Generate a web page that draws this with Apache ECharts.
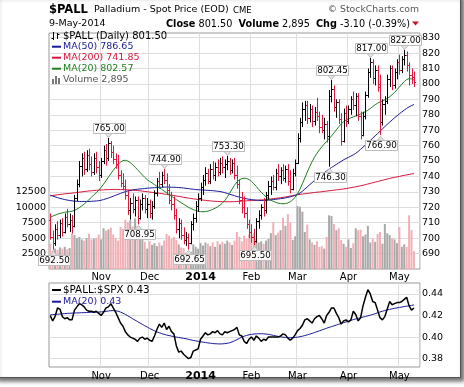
<!DOCTYPE html>
<html><head><meta charset="utf-8">
<script src="https://cdn.jsdelivr.net/npm/echarts@6/dist/echarts.min.js"></script>
<style>html,body{margin:0;padding:0;background:#fff}#c{width:464px;height:387px}</style>
</head><body><div id="c"></div><script>
// ---------- data ----------
const startDate = '2013-10-03', endDate = '2014-05-09';
const holidays = ['2013-11-28','2013-12-25','2014-01-01','2014-01-20','2014-02-17','2014-04-18'];
const padSlots = ['pad1','pad2'];
const monthLabels = {'2013-11':'Nov','2013-12':'Dec','2014-01':'2014','2014-02':'Feb','2014-03':'Mar','2014-04':'Apr','2014-05':'May'};
const priceTicks = [690,700,710,720,730,740,750,760,770,780,790,800,810,820,830];
const volumeTicks = [2500,5000,7500,10000,12500];
const ratioTicks = [0.38,0.40,0.42,0.44];

const opens = [712,701,697,706,702,710,704,714,709,712,
708,726,735,747,752,745,754,748,743,752,
746,741,750,757,752,762,756,751,748,741,
736,734,728,718,723,719,725,713,722,726,
719,722,716,721,729,737,735,741,738,731,
725,722,715,706,710,702,699,701,697,709,
713,721,726,733,738,742,737,745,741,746,
743,749,746,748,750,744,749,741,735,725,
720,716,709,704,701,698,711,715,720,718,
728,734,737,733,742,740,744,739,745,737,
732,742,749,765,775,784,786,778,784,776,
782,779,772,770,774,766,792,797,785,788,
777,763,781,776,784,790,786,792,779,767,
779,793,808,814,804,809,800,775,787,789,
803,810,799,808,814,809,816,819,812,806,
804.6];
const highs = [716,705,709,711,712,713,716,719,716,715,
728,738,750,755,756,757,758,753,755,756,
750,752,760,761,765,763,760,755,754,744,
742,738,731,726,729,727,727,725,729,728,
726,725,724,731,739,743,743,744.9,742,735,
730,727,719,713,712,707,704,703,711,716,
724,729,736,741,746,745,748,750,749,751,
752,753,751,753.3,752,751,752,747,738,730,
727,720,712,709,706,713,718,722,726,730,
737,740,741,745,748,746,748,747,748,744,
745,751,768,778,788,789,789,787,786,785,
791,782,780,778,776,796,802.45,799,790,790,
781,784,786,786,792,795,794,794,782,782,
795,810,817,816,812,812,806,790,792,806,
812,812,810,816,819,818,822,821,814,810,
808];
const lows = [699,692.5,695,699,700,701,703,707,704,703,
707,724,733,740,741,743,744,740,741,742,
737,739,748,747,750,752,748,745,738,733,
731,725,715,712,716,714,708.95,712,718,716,
713,713,712,719,727,732,733,735,728,722,
718,712,703,700,699,696,695,692.65,696,705,
710,717,724,728,734,735,735,738,737,740,
741,742,739,744,741,742,738,732,722,716,
713,706,700,697,695.5,697,706,712,714,716,
725,728,731,731,737,735,737,736,734,729,
731,740,748,762,772,776,774,775,772,773,
776,768,768,764,762,746.3,788,782,778,774,
760,762,772,774,780,783,779,776,764,766,
777,791,804,800,799,795,766.9,773,780,787,
798,796,797,803,806,807,812,808,799,800,
798];
const closes = [701,697,706,702,710,704,714,709,712,708,
726,735,747,752,745,754,748,743,752,746,
741,750,757,752,762,756,751,748,741,736,
734,728,718,723,719,725,713,722,726,719,
722,716,721,729,737,735,741,738,731,725,
722,715,706,710,702,699,701,697,709,713,
721,726,733,738,742,737,745,741,746,743,
749,746,748,750,744,749,741,735,725,720,
716,709,704,701,698,711,715,720,718,728,
734,737,733,742,740,744,739,745,737,732,
742,749,765,775,784,786,778,784,776,782,
779,772,770,774,766,792,797,785,788,777,
763,781,776,784,790,786,792,779,767,779,
793,808,814,804,809,798,775,787,789,803,
810,799,808,814,809,816,819,812,806,804.6,
801.5];
const volumes = [4100,3000,3300,3100,3500,3300,3600,3200,3400,5800,
5500,5000,5200,4800,4600,5000,5700,4800,4900,5000,
5600,4800,6600,6200,6400,6700,5600,5000,4600,6800,
6500,8000,7600,7900,6900,8200,7000,5200,4800,4400,
3300,4500,3900,4200,3700,4300,3800,4600,5700,5400,
4900,5200,4700,4000,3500,3400,2600,1600,2800,4000,
3600,3300,4200,3800,4300,4100,3700,4300,3600,4500,
4000,4400,4100,4600,4300,3900,4600,6000,5200,4500,
5400,4900,5600,5500,5800,4800,4300,4500,4100,4600,
4900,5800,7600,5500,5900,6300,8300,7000,8900,7500,
4700,5300,10200,10100,9300,6000,7200,4800,4300,3900,
4500,3600,3700,3300,5200,8700,8600,7300,6300,6600,
4700,4100,3600,4800,3400,4200,6600,6300,6400,5300,
5600,7000,4300,4900,4400,5700,6000,4100,7300,5800,
5500,5000,4800,4200,6800,3600,4000,3600,8700,6300,
2895];
const ma50 = [727.8,727.3,726.8,726.3,725.8,725.4,725.0,724.7,724.4,724.2,724.0,
723.9,723.8,723.8,723.8,723.8,723.8,723.9,724.0,724.1,724.3,
724.6,725.0,725.5,726.0,726.6,727.2,727.8,728.4,729.0,729.6,
730.1,730.6,731.0,731.3,731.5,731.7,731.9,732.0,732.2,732.4,
732.5,732.6,732.7,732.8,732.9,733.0,733.1,733.1,733.1,733.0,
733.0,732.9,732.8,732.7,732.5,732.3,732.1,731.9,731.7,731.5,
731.4,731.3,731.2,731.1,731.0,730.9,730.8,730.6,730.4,730.2,
729.9,729.5,729.0,728.5,728.0,727.5,727.0,726.6,726.2,725.8,
725.5,725.2,725.0,724.8,724.6,724.5,724.4,724.4,724.5,724.6,
724.8,725.0,725.2,725.4,725.6,725.8,726.1,726.4,726.8,727.2,
727.7,728.3,729.2,730.4,731.8,733.2,734.6,736.0,737.4,738.8,
740.0,741.2,742.4,743.6,744.8,745.8,746.8,747.8,748.8,749.8,
750.8,751.6,752.4,753.2,754.0,755.0,756.2,757.6,759.0,760.4,
761.8,763.3,764.8,766.3,767.8,769.3,770.8,772.3,773.8,775.2,
776.6,778.0,779.3,780.6,781.8,783.0,784.1,785.1,785.9,786.65];
const ma200 = [727.5,727.7,727.9,728.1,728.3,728.5,728.7,728.9,729.0,729.2,729.4,
729.6,729.8,730.0,730.2,730.4,730.6,730.7,730.9,731.0,731.1,
731.2,731.3,731.4,731.5,731.5,731.6,731.6,731.6,731.5,731.5,
731.4,731.3,731.2,731.1,731.0,730.9,730.7,730.5,730.3,730.1,
729.9,729.7,729.5,729.3,729.1,728.9,728.6,728.4,728.1,727.9,
727.6,727.3,727.1,726.8,726.5,726.2,726.0,725.7,725.5,725.3,
725.1,724.9,724.7,724.5,724.3,724.2,724.0,723.9,723.8,723.7,
723.7,723.6,723.6,723.6,723.6,723.7,723.8,723.9,724.0,724.1,
724.2,724.3,724.4,724.5,724.6,724.7,724.8,724.9,725.0,725.2,
725.4,725.6,725.8,726.0,726.2,726.4,726.7,727.0,727.3,727.6,
727.9,728.2,728.4,728.6,728.8,729.0,729.2,729.4,729.6,729.8,
729.9,730.1,730.3,730.5,730.7,730.9,731.1,731.3,731.5,731.7,
731.9,732.1,732.4,732.7,733.0,733.3,733.6,733.9,734.3,734.7,
735.1,735.5,735.9,736.3,736.7,737.1,737.5,737.9,738.3,738.7,
739.1,739.4,739.7,740.0,740.4,740.7,741.0,741.3,741.6,741.85];
const ma20 = [713.5,714.2,714.9,715.5,716.0,716.4,716.8,717.0,717.2,717.5,718.0,
718.8,719.8,720.9,722.1,723.5,725.0,726.5,728.0,729.5,731.0,
733.0,735.0,737.2,739.5,741.8,744.0,746.0,747.8,749.3,750.3,
750.5,750.0,749.0,747.6,746.0,744.4,742.7,741.0,739.4,738.0,
736.8,735.8,734.7,733.7,732.7,731.6,730.5,729.4,728.3,727.2,
726.1,725.0,724.0,723.0,722.0,721.0,720.0,719.2,718.5,717.9,
717.5,717.2,717.1,717.2,717.5,718.0,718.6,719.4,720.3,721.4,
722.7,724.5,726.6,729.0,731.8,734.3,736.4,737.8,738.6,738.9,
738.7,738.0,736.8,735.2,733.5,731.6,729.8,728.2,726.8,725.6,
724.6,723.8,723.2,722.7,722.4,722.3,722.4,722.8,723.6,724.8,
726.5,728.8,731.8,735.3,739.0,742.8,746.4,749.6,752.5,755.0,
757.2,759.2,761.0,762.7,764.5,766.3,768.2,770.2,772.2,774.0,
775.5,776.6,777.4,778.0,778.6,779.2,779.8,780.5,781.2,782.0,
782.9,784.0,785.3,786.5,787.5,788.3,789.0,789.7,790.6,791.7,
793.0,794.5,796.2,798.0,799.8,801.5,802.8,803.4,803.2,802.57];
const ratio = [.420,.415,.419,.427,.426,.419,.417,.418,.416,.416,
.425,.428,.431,.430,.428,.425,.424,.424,.423,.424,
.422,.420,.423,.427,.428,.431,.427,.423,.418,.413,
.410,.405,.402,.400,.399,.398,.396,.399,.400,.398,
.399,.397,.396,.401,.407,.412,.409,.413,.407,.410,
.405,.403,.392,.386,.387,.384,.382,.380,.381,.387,
.388,.389,.398,.401,.404,.402,.403,.405,.404,.406,
.403,.402,.405,.404,.405,.406,.407,.409,.402,.401,
.396,.394,.398,.400,.397,.401,.399,.396,.398,.397,
.400,.400,.400,.400,.400,.401,.403,.402,.399,.397,
.399,.402,.406,.408,.411,.416,.417,.415,.413,.417,
.419,.420,.417,.413,.420,.423,.427,.427,.422,.418,
.412,.415,.416,.414,.416,.424,.421,.415,.418,.429,
.437,.444,.440,.433,.432,.425,.418,.416,.419,.426,
.433,.430,.431,.432,.432,.433,.435,.437,.429,.425,
.427];
const ratioMa20 = [.4206,.4208,.4210,.4212,.4214,.4216,.4218,.4220,.4221,.4222,.4223,
.4224,.4225,.4226,.4227,.4228,.4229,.4230,.4231,.4231,.4232,
.4234,.4236,.4239,.4242,.4245,.4246,.4244,.4240,.4232,.4222,
.4210,.4197,.4184,.4170,.4157,.4144,.4131,.4118,.4105,.4093,
.4080,.4069,.4058,.4048,.4040,.4032,.4025,.4019,.4014,.4009,
.4004,.4000,.3996,.3992,.3988,.3984,.3979,.3974,.3969,.3965,
.3961,.3957,.3953,.3949,.3946,.3943,.3940,.3938,.3937,.3936,
.3937,.3939,.3942,.3947,.3955,.3965,.3976,.3988,.3999,.4008,
.4015,.4021,.4025,.4028,.4030,.4031,.4031,.4030,.4028,.4025,
.4021,.4016,.4011,.4006,.4002,.3999,.3996,.3994,.3994,.3995,
.3997,.3999,.4003,.4008,.4014,.4020,.4027,.4034,.4042,.4050,
.4058,.4066,.4074,.4082,.4090,.4097,.4104,.4112,.4119,.4127,
.4134,.4141,.4148,.4155,.4162,.4168,.4174,.4180,.4186,.4191,
.4197,.4203,.4210,.4217,.4225,.4233,.4240,.4246,.4252,.4257,
.4262,.4267,.4271,.4275,.4279,.4283,.4287,.4290,.4294,.4298];
const annotations = [[1,'low'],[24,'high'],[36,'low'],[47,'high'],[57,'low'],[73,'high'],
[84,'low'],[115,'low'],[116,'high'],[132,'high'],[136,'low'],[146,'high']];

// ---------- build ----------
const FONT = 'DejaVu Sans';
function fmtDate(d){ return d.toISOString().slice(0,10); }
const dates = [];
(function(){
  let d = new Date(startDate + 'T00:00:00Z');
  const end = new Date(endDate + 'T00:00:00Z');
  while (d <= end) {
    const wd = d.getUTCDay(), s = fmtDate(d);
    if (wd !== 0 && wd !== 6 && holidays.indexOf(s) < 0) dates.push(s);
    d = new Date(d.getTime() + 86400000);
  }
})();
const N = dates.length;
const cats = dates.concat(padSlots);
const isMonthStart = cats.map((c,i)=> i>0 && i<N && c.slice(0,7)!==cats[i-1].slice(0,7) && monthLabels[c.slice(0,7)]!==undefined);
const upDay = closes.map((c,i)=> i===0 ? c>=opens[0] : c>=closes[i-1]);
const last = N-1;
const C_RED = '#e0163c', C_NAVY = '#1a1a9a', C_MA200 = '#d8143a', C_GREEN = '#1f7f1f';

function xAxis(gi, margin){
  return {type:'category', gridIndex:gi, data:cats, boundaryGap:true,
    axisLine:{show:false}, axisTick:{show:false},
    axisLabel:{interval:(i)=>isMonthStart[i], margin:margin, fontFamily:FONT, fontSize:10, color:'#000',
      formatter:(v)=>{const l=monthLabels[v.slice(0,7)]; return l==='2014' ? '{b|2014}' : (l||'');},
      rich:{b:{fontWeight:'bold', fontSize:11, fontFamily:FONT, color:'#000'}}},
    splitLine:{show:true, interval:(i)=>isMonthStart[i], lineStyle:{color:'#dedede', width:1}}
  };
}

const graphics = [];
graphics.push({type:'rect', z:-100, silent:true, shape:{x:-5,y:-5,width:465.5,height:382.5},
  style:{fill:'#fff', stroke:'#555', lineWidth:1, shadowBlur:4, shadowOffsetX:3, shadowOffsetY:3, shadowColor:'rgba(0,0,0,0.55)'}});
function T(x,y,text,size,color,extra){
  return {type:'text', x:x, y:y, z:20, silent:true,
    style:Object.assign({text:text, fontSize:size, fontFamily:FONT, fill:color, verticalAlign:'middle', align:'left'}, extra||{})};
}
function L(x1,y1,x2,y2,color,w){ return {type:'line', z:20, silent:true, shape:{x1,y1,x2,y2}, style:{stroke:color, lineWidth:w}}; }
// header
graphics.push(T(49,10,'$PALL',11.5,'#000',{fontWeight:'bold'}));
graphics.push(T(94,10,'Palladium - Spot Price (EOD)',9.5,'#000'));
graphics.push(T(233,10.5,'CME',8.5,'#000'));
graphics.push(T(419,10,'\u00a9 StockCharts.com',9.3,'#555',{align:'right'}));
const lastD = new Date(dates[last]+'T00:00:00Z');
const mNames = ['Jan','Feb','Mar','Apr','May','Jun','Jul','Aug','Sep','Oct','Nov','Dec'];
graphics.push(T(49,24,lastD.getUTCDate()+'-'+mNames[lastD.getUTCMonth()]+'-'+lastD.getUTCFullYear(),9.5,'#000'));
const chg = closes[last]-closes[last-1];
const pct = chg/closes[last-1]*100;
graphics.push(T(410,24,'{b|Close} '+closes[last].toFixed(2)+'  {b|Volume} '+volumes[last].toLocaleString('en-US')+'  {b|Chg} '+chg.toFixed(2)+' ('+pct.toFixed(2)+'%)',9.7,'#000',
  {align:'right', rich:{b:{fontWeight:'bold', fontSize:9.7, fontFamily:FONT, fill:'#000'}}}));
graphics.push({type:'polygon', z:20, silent:true, shape:{points:[[412,21.5],[419,21.5],[415.5,25.5]]}, style:{fill:'#c8102e'}});
// main legend
graphics.push(L(53.5,32,53.5,40,'#000',1), L(51.5,38.5,53.5,38.5,'#000',1), L(57.5,33,57.5,39,'#000',1), L(57.5,34.5,59.5,34.5,'#000',1));
graphics.push(T(63,36,'$PALL (Daily) '+closes[last].toFixed(2),10,'#000'));
graphics.push(L(52,46.7,61,46.7,C_NAVY,2), T(63,46.7,'MA(50) '+ma50[last].toFixed(2),9.5,C_NAVY));
graphics.push(L(52,57.7,61,57.7,C_MA200,2), T(63,57.7,'MA(200) '+ma200[last].toFixed(2),9.5,C_MA200));
graphics.push(L(52,68.7,61,68.7,C_GREEN,2), T(63,68.7,'MA(20) '+ma20[last].toFixed(2),9.5,C_GREEN));
graphics.push({type:'rect',z:20,silent:true,shape:{x:52,y:79,width:2,height:5},style:{fill:'#777'}},
  {type:'rect',z:20,silent:true,shape:{x:55,y:76,width:2,height:8},style:{fill:'#777'}},
  {type:'rect',z:20,silent:true,shape:{x:58,y:78,width:2,height:6},style:{fill:'#777'}});
graphics.push(T(63,80,'Volume '+volumes[last].toLocaleString('en-US'),9.5,'#555'));
// lower legend
graphics.push(L(52,290,61,290,'#000',2), T(63,290,'$PALL:$SPX '+ratio[last].toFixed(2),10.3,'#000'));
graphics.push(L(52,301.7,61,301.7,C_NAVY,2), T(63,301.7,'MA(20) '+ratioMa20[last].toFixed(2),9.5,C_NAVY));

const option = {
  animation:false,
  backgroundColor:'transparent',
  textStyle:{fontFamily:FONT},
  grid:[
    {left:49, top:33, width:371, height:236, show:true, borderColor:'#999', borderWidth:1, backgroundColor:'transparent', outerBoundsMode:'none', containLabel:false},
    {left:49, top:283, width:371, height:84, show:true, borderColor:'#999', borderWidth:1, backgroundColor:'transparent', outerBoundsMode:'none', containLabel:false}
  ],
  xAxis:[xAxis(0,3), xAxis(1,4)],
  yAxis:[
    {type:'value', gridIndex:0, position:'right', min:680, max:833,
      axisLine:{show:false}, axisTick:{show:false, customValues:priceTicks},
      axisLabel:{customValues:priceTicks, margin:2, fontFamily:FONT, fontSize:9.5, color:'#000', formatter:(v)=>String(v)},
      splitLine:{show:true, lineStyle:{color:'#dedede', width:1}}},
    {type:'value', gridIndex:0, position:'left', min:0, max:38250,
      axisLine:{show:false}, axisTick:{show:false, customValues:volumeTicks},
      axisLabel:{customValues:volumeTicks, margin:3, fontFamily:FONT, fontSize:9.5, color:'#000', formatter:(v)=>String(v)},
      splitLine:{show:false}},
    {type:'value', gridIndex:1, position:'right', min:0.3722, max:0.4502,
      axisLine:{show:false}, axisTick:{show:false, customValues:ratioTicks},
      axisLabel:{customValues:ratioTicks, margin:2, fontFamily:FONT, fontSize:9.5, color:'#000', formatter:(v)=>v.toFixed(2)},
      splitLine:{show:true, lineStyle:{color:'#dedede', width:1}}}
  ],
  graphic:{elements:graphics},
  series:[
    {type:'bar', name:'Volume', xAxisIndex:0, yAxisIndex:1, z:1, silent:true, barWidth:2,
      data:volumes.map((v,i)=>({value:v, itemStyle:{color: upDay[i] ? '#a9a9a9' : '#f2b0b6'}}))},
    {type:'line', name:'MA(200)', xAxisIndex:0, yAxisIndex:0, z:3, silent:true, symbol:'none', data:ma200, lineStyle:{color:C_MA200, width:1}},
    {type:'line', name:'MA(50)', xAxisIndex:0, yAxisIndex:0, z:3, silent:true, symbol:'none', data:ma50, lineStyle:{color:C_NAVY, width:1}},
    {type:'line', name:'MA(20)', xAxisIndex:0, yAxisIndex:0, z:3, silent:true, symbol:'none', data:ma20, lineStyle:{color:C_GREEN, width:1}},
    {type:'custom', name:'$PALL', xAxisIndex:0, yAxisIndex:0, z:4, silent:true,
      data:closes.map((c,i)=>[i, opens[i], highs[i], lows[i], c]),
      encode:{x:0, y:[1,2,3,4]},
      renderItem:function(params, api){
        const i = api.value(0);
        const h = api.coord([i, api.value(2)]), l = api.coord([i, api.value(3)]);
        const o = api.coord([i, api.value(1)]), c = api.coord([i, api.value(4)]);
        const x = Math.round(h[0]) + 0.5;
        const col = upDay[i] ? '#000000' : C_RED;
        const yo = Math.round(o[1]) + 0.5, yc = Math.round(c[1]) + 0.5;
        return {type:'group', children:[
          {type:'line', shape:{x1:x, y1:h[1], x2:x, y2:l[1]}, style:{stroke:col, lineWidth:1}},
          {type:'line', shape:{x1:x-1.5, y1:yo, x2:x, y2:yo}, style:{stroke:col, lineWidth:1}},
          {type:'line', shape:{x1:x, y1:yc, x2:x+1.5, y2:yc}, style:{stroke:col, lineWidth:1}}
        ]};
      }},
    {type:'custom', name:'labels', xAxisIndex:0, yAxisIndex:0, z:6, silent:true, clip:false,
      data:annotations.map(a=>[a[0], a[1]==='high' ? highs[a[0]] : lows[a[0]], a[1]==='high' ? 1 : 0]),
      encode:{x:0, y:1},
      renderItem:function(params, api){
        const i = api.value(0), v = api.value(1), isHigh = api.value(2) === 1;
        const p = api.coord([i, v]);
        const x = Math.round(p[0]) + 0.5;
        const w = 32, h = 10, gap = 5;
        const by = isHigh ? Math.round(p[1] - gap - h) + 0.5 : Math.round(p[1] + gap) + 0.5;
        const bx = Math.round(x - w/2) + 0.5;
        const tri = isHigh ? [[x-3.5, by+h], [x+3.5, by+h], [x, by+h+4]] : [[x-3.5, by], [x+3.5, by], [x, by-4]];
        return {type:'group', children:[
          {type:'polygon', shape:{points:tri}, style:{fill:'#e4e4e4', stroke:'#bdbdbd', lineWidth:1}},
          {type:'rect', shape:{x:bx, y:by, width:w, height:h}, style:{fill:'rgba(255,255,255,0.92)', stroke:'#bdbdbd', lineWidth:1}},
          {type:'text', style:{x:bx + w/2, y:by + h/2 + 0.5, text:v.toFixed(2), fill:'#000', fontSize:8.7, fontFamily:FONT, align:'center', verticalAlign:'middle'}}
        ]};
      }},
    {type:'line', name:'$PALL:$SPX', xAxisIndex:1, yAxisIndex:2, z:4, silent:true, symbol:'none', data:ratio, lineStyle:{color:'#000', width:1.5}},
    {type:'line', name:'MA(20) ratio', xAxisIndex:1, yAxisIndex:2, z:3, silent:true, symbol:'none', data:ratioMa20, lineStyle:{color:C_NAVY, width:1}}
  ]
};
const chart = echarts.init(document.getElementById('c'), null, {renderer:'canvas', width:464, height:387});
chart.setOption(option);
</script></body></html>
